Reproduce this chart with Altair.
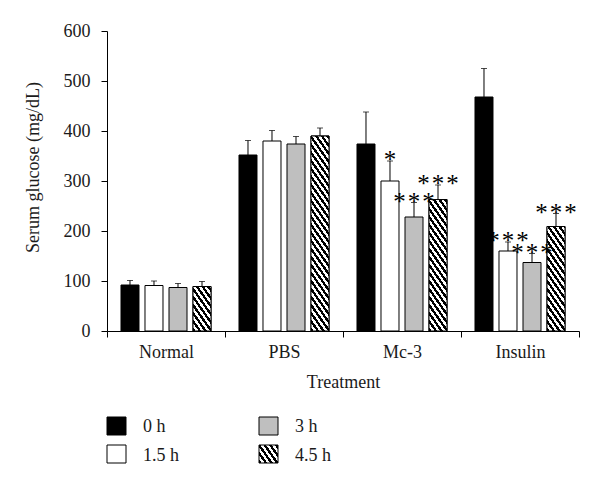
import math
import altair as alt
import pandas as pd

groups = ["Normal", "PBS", "Mc-3", "Insulin"]
series = ["0 h", "1.5 h", "3 h", "4.5 h"]
means = {
    "0 h":   [92, 352, 374, 468],
    "1.5 h": [91, 380, 300, 160],
    "3 h":   [87, 374, 228, 137],
    "4.5 h": [89, 390, 263, 209],
}
errors = {
    "0 h":   [9, 29, 64, 57],
    "1.5 h": [9, 21, 40, 18],
    "3 h":   [8, 15, 29, 18],
    "4.5 h": [10, 16, 29, 26],
}
S3 = "*\u200a*\u200a*"
stars = {
    "0 h":   ["", "", "", ""],
    "1.5 h": ["", "", "*", S3],
    "3 h":   ["", "", S3, S3],
    "4.5 h": ["", "", S3, S3],
}
fills = ["#000000", "#ffffff", "#bfbfbf", "#ffffff"]
y_ticks = [0, 100, 200, 300, 400, 500, 600]

rows = []
for s in series:
    for i, g in enumerate(groups):
        rows.append({"group": g, "series": s, "mean": means[s][i],
                     "top": means[s][i] + errors[s][i], "star": stars[s][i]})
df = pd.DataFrame(rows)

W, H = 472, 300
YMAX = 600
FONT = "Liberation Serif"
BAR_W = 18


def hatch(w, h, theta=55, p=4.6, frac=0.5):
    th = math.radians(theta)
    sn, cs = math.sin(th), math.cos(th)
    ext = w * sn + h * cs
    n = ext / p
    a = sn / h
    b = cs / w
    k = (a + b) / (a * a + b * b)
    stops = []
    i = 0
    while i / n < 1:
        t0, t1, t2 = i / n, (i + frac) / n, (i + 1) / n
        stops += [{"offset": t0, "color": "#000000"},
                  {"offset": min(t1, 1), "color": "#000000"}]
        if t1 < 1:
            stops += [{"offset": t1, "color": "#ffffff"},
                      {"offset": min(t2, 1), "color": "#ffffff"}]
        i += 1
    return {"gradient": "linear", "x1": 0, "y1": 1, "x2": k * a, "y2": 1 - k * b,
            "stops": stops}


x_enc = alt.X("group:N", sort=groups,
              scale=alt.Scale(paddingInner=0, paddingOuter=0),
              axis=alt.Axis(title="Treatment", tickBand="extent", labelAngle=0,
                            labelBaseline="alphabetic", labelPadding=20,
                            titleY=56, titleBaseline="alphabetic"))
xo_enc = alt.XOffset("series:N", sort=series,
                     scale=alt.Scale(domain=series, paddingInner=0.25, paddingOuter=0.583))
y_scale = alt.Scale(domain=[0, YMAX], nice=False)
y_enc = alt.Y("mean:Q", scale=y_scale,
              axis=alt.Axis(title="Serum glucose (mg/dL)", values=y_ticks, grid=False,
                            labelPadding=11, titleX=-74, titleY=136,
                            titleAngle=270, titleBaseline="middle", titleAlign="center"))

base = alt.Chart(df).encode(x=x_enc, xOffset=xo_enc)

rules = base.mark_rule(color="#000000", strokeWidth=1).encode(
    y=y_enc, y2="top:Q")
caps = base.mark_tick(color="#000000", thickness=1, size=6).encode(
    y=alt.Y("top:Q", scale=y_scale))
bars = base.mark_bar(stroke="#000000", strokeWidth=1).encode(
    y=y_enc,
    fill=alt.Fill("series:N", scale=alt.Scale(domain=series, range=fills), legend=None))

hatch_layers = []
for i, g in enumerate(groups):
    v = means["4.5 h"][i]
    hpx = v * H / YMAX
    hatch_layers.append(
        base.transform_filter(
            (alt.datum.group == g) & (alt.datum.series == "4.5 h")
        ).mark_bar(stroke="#000000", strokeWidth=1, fill=hatch(BAR_W, hpx)).encode(y=y_enc)
    )

star_text = base.transform_filter(alt.datum.star != "").mark_text(
    font=FONT, fontSize=25, baseline="alphabetic", dy=7, color="#000000"
).encode(y=alt.Y("top:Q", scale=y_scale), text="star:N")

# legend (column-major, two columns)
legend_layers = []
sw, sh = 19, 18
for j, s in enumerate(series):
    col, row = j // 2, j % 2
    lx = col * 152
    ly = 386 + row * 28
    fill_val = hatch(sw, sh) if s == "4.5 h" else fills[j]
    ld = alt.Data(values=[{"label": s}])
    legend_layers.append(
        alt.Chart(ld).mark_rect(stroke="#000000", strokeWidth=1, fill=fill_val).encode(
            x=alt.value(lx), x2=alt.value(lx + sw),
            y=alt.value(ly), y2=alt.value(ly + sh))
    )
    legend_layers.append(
        alt.Chart(ld).mark_text(font=FONT, fontSize=18, align="left",
                                baseline="alphabetic", color="#1a1a1a").encode(
            x=alt.value(lx + 36), y=alt.value(ly + 15 + row * 1), text="label:N")
    )

chart = alt.layer(bars, *hatch_layers, rules, caps, star_text, *legend_layers).properties(
    width=W, height=H,
    autosize=alt.AutoSizeParams(type="none"),
    padding={"left": 99, "top": 23, "right": 13, "bottom": 160},
).configure_view(stroke=None).configure_axis(
    domainColor="#000000", tickColor="#000000", tickSize=6,
    labelFont=FONT, labelFontSize=18, labelColor="#1a1a1a",
    titleFont=FONT, titleFontSize=18, titleFontWeight="normal", titleColor="#1a1a1a",
)

chart.save("out.html", embed_options={"renderer": "svg", "actions": False})
